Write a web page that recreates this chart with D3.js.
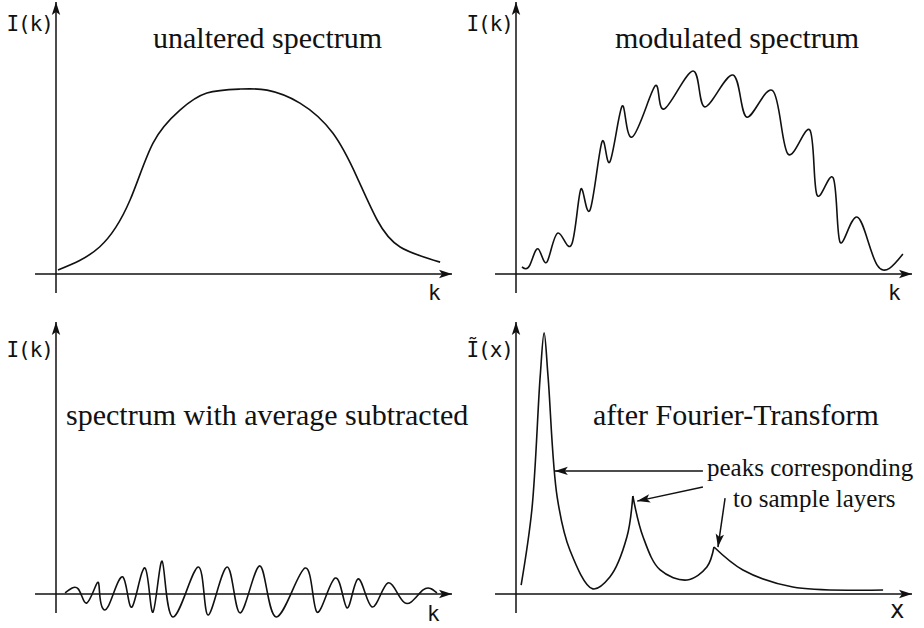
<!DOCTYPE html>
<html>
<head>
<meta charset="utf-8">
<script src="https://cdn.jsdelivr.net/npm/d3@7"></script>
<style>
  body { margin: 0; background: #fff; }
  .title { font-family: "Liberation Serif", "Times New Roman", serif; font-size: 30px; fill: #111; }
  .note { font-family: "Liberation Serif", "Times New Roman", serif; font-size: 25px; fill: #111; }
  .lab { font-family: "DejaVu Sans Mono", monospace; font-size: 21px; letter-spacing: -1px; fill: #111; }
</style>
</head>
<body>
<div class="svg-container"></div>
<script>
// unaltered spectrum (k in 0..100, intensity in 0..100)
var kPlain = [0.5, 11, 18.7, 24.5, 31.3, 38.1, 46.5, 53.3, 61.6, 69.9, 76, 81.1, 86.9, 97];
var iPlain = [1.5, 10, 27.4, 48.5, 60.7, 67, 68.5, 68.1, 63.3, 52.2, 35.9, 20, 10, 4.4];

// modulated spectrum
var kMod = [1.5, 3.5, 5.6, 7.8, 10.6, 14.1, 16.4, 18.7, 21.7, 23.7, 26.8, 29.3, 35.1, 37.4,
            44.7, 47.7, 54.8, 58.3, 64.9, 68.7, 74.2, 76, 80.1, 81.8, 86.1, 91.2, 97.7];
var iMod = [2.6, 3.3, 9.3, 4.4, 15.2, 11.1, 31.5, 23.7, 48.9, 41.5, 62.2, 50.7, 69.6, 61.1,
            75.2, 61.9, 73.7, 58.1, 67.8, 44.4, 53.3, 29.3, 35.6, 11.9, 21.1, 3.3, 7.4];

// spectrum with average subtracted
var kSub = [2.3, 5.6, 7.8, 10.4, 11.1, 13.1, 16.9, 19.2, 22.5, 24.5, 26.8, 29.5, 35.9, 38.4,
            43.2, 46.5, 51.5, 55.6, 62.9, 65.9, 70.5, 73.5, 76.3, 79.8, 83.8, 88.1, 92.7, 96.2];
var iSub = [0.4, 1.9, -3.3, 4.1, -1.1, -4.8, 6.3, -4.8, 9.6, -6.7, 12.2, -8.5, 10, -7.8,
            10, -7, 10.4, -8.5, 9.6, -6.7, 5.9, -5.2, 5.6, -4.8, 4.1, -3.3, 1.5, 0.4];

// after Fourier transform
var xFt = [1.3, 4, 6.1, 7.1, 8.1, 10.4, 13.6, 19.4, 23.7, 28, 29.5, 32.1, 36.4, 43.2,
           48.2, 50, 57.3, 69.9, 92.7];
var iFt = [3.3, 31.1, 80.4, 96.7, 80.4, 35.9, 16.3, 1.9, 6.3, 21.1, 36.3, 21.1, 8.9, 5.2,
           10, 17.4, 8.9, 2.6, 1.5];
var ftCusps = [10, 15];

var titles = ["unaltered spectrum", "modulated spectrum", "spectrum with average subtracted", "after Fourier-Transform"];
var yLabels = ["I(k)", "I(k)", "I(k)", "\u0128(x)"];
var xLabels = ["k", "k", "k", "x"];
var noteLines = ["peaks corresponding", "to sample layers"];
var arrowFrom = [[47.2, 45.6], [47.2, 39.6], [52.8, 35.5]];
var arrowTo = [[9.8, 45.6], [30.6, 34.4], [51, 17.4]];

var width = 924, height = 628;

var svg = d3.select(".svg-container").append("svg")
    .attr("width", width)
    .attr("height", height);

var defs = svg.append("defs");
defs.append("marker")
    .attr("id", "tip")
    .attr("viewBox", "-14 -5 15 10")
    .attr("refX", 0).attr("refY", 0)
    .attr("markerUnits", "userSpaceOnUse")
    .attr("markerWidth", 15).attr("markerHeight", 10)
    .attr("orient", "auto")
    .append("path")
    .attr("d", "M0,0 L-13,-4.2 L-10,0 L-13,4.2 Z")
    .attr("fill", "#111");

// panel origins and text offsets
var panels = [
    {ox: 56, oy: 274, xs: kPlain, ys: iPlain, tx: 97, ty: -226, ly: -243, kx: 372, ky: 26},
    {ox: 516, oy: 274, xs: kMod, ys: iMod, tx: 99, ty: -226, ly: -243, kx: 372, ky: 26},
    {ox: 56, oy: 594, xs: kSub, ys: iSub, tx: 10, ty: -169, ly: -237, kx: 371, ky: 27},
    {ox: 516, oy: 594, xs: xFt, ys: iFt, tx: 77, ty: -169, ly: -237, kx: 374, ky: 24}
];

panels.forEach(function(p, n) {
    var xScale = d3.scaleLinear().domain([0, 100]).range([p.ox, p.ox + 396]);
    var yScale = d3.scaleLinear().domain([0, 100]).range([p.oy, p.oy - 270]);
    var g = svg.append("g");

    // axes
    g.append("line")
        .attr("x1", xScale(-5.3)).attr("y1", yScale(0))
        .attr("x2", xScale(100)).attr("y2", yScale(0))
        .attr("stroke", "#111").attr("stroke-width", 1.5)
        .attr("marker-end", "url(#tip)");
    g.append("line")
        .attr("x1", xScale(0)).attr("y1", yScale(-7))
        .attr("x2", xScale(0)).attr("y2", yScale(100.7))
        .attr("stroke", "#111").attr("stroke-width", 1.5)
        .attr("marker-end", "url(#tip)");

    g.append("text").attr("class", "lab")
        .attr("x", p.ox - 3).attr("y", p.oy + p.ly)
        .attr("text-anchor", "end")
        .text(yLabels[n]);
    g.append("text").attr("class", "lab")
        .attr("x", p.ox + p.kx).attr("y", p.oy + p.ky)
        .style("font-size", n == 3 ? "24px" : "21px")
        .text(xLabels[n]);
    g.append("text").attr("class", "title")
        .attr("x", p.ox + p.tx).attr("y", p.oy + p.ty)
        .text(titles[n]);

    var line = d3.line()
        .x(function(i) { return xScale(p.xs[i]); })
        .y(function(i) { return yScale(p.ys[i]); })
        .curve(n == 3 ? d3.curveCatmullRom.alpha(0.5) : d3.curveNatural);

    // split at cusps so the Fourier peaks stay sharp
    var breaks = (n == 3 ? ftCusps : []).concat([p.xs.length - 1]);
    var start = 0;
    breaks.forEach(function(end) {
        g.append("path")
            .datum(d3.range(start, end + 1))
            .attr("fill", "none")
            .attr("stroke", "#111")
            .attr("stroke-width", 1.6)
            .attr("d", line);
        start = end;
    });

    if (n == 3) {
        for (var a = 0; a < arrowFrom.length; a++) {
            g.append("line")
                .attr("x1", xScale(arrowFrom[a][0])).attr("y1", yScale(arrowFrom[a][1]))
                .attr("x2", xScale(arrowTo[a][0])).attr("y2", yScale(arrowTo[a][1]))
                .attr("stroke", "#111").attr("stroke-width", 1.5)
                .attr("marker-end", "url(#tip)");
        }
        g.append("text").attr("class", "note")
            .attr("x", 707).attr("y", 476).text(noteLines[0]);
        g.append("text").attr("class", "note")
            .attr("x", 733).attr("y", 507).text(noteLines[1]);
    }
});
</script>
</body>
</html>
